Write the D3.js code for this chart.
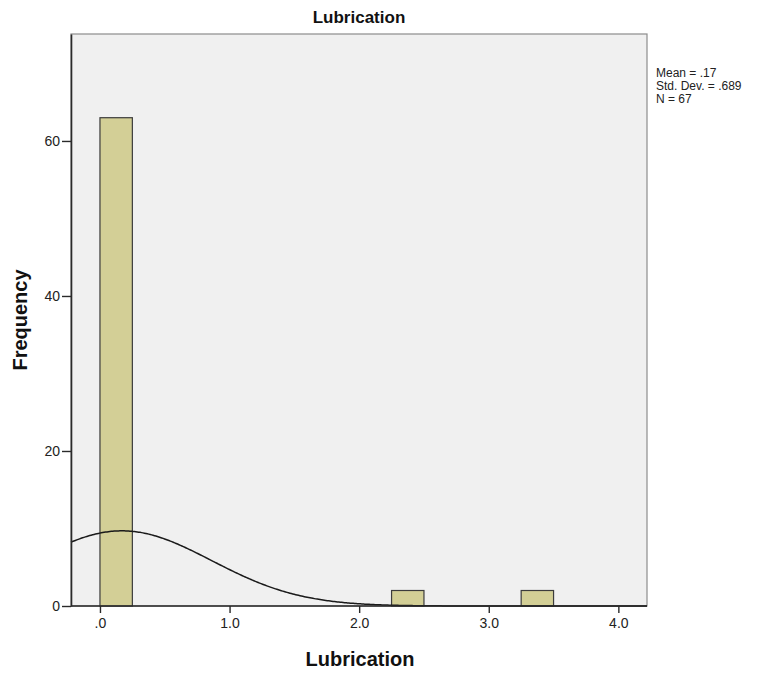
<!DOCTYPE html>
<html>
<head>
<meta charset="utf-8">
<script src="https://cdn.jsdelivr.net/npm/d3@7"></script>
<style>
  html, body { margin: 0; padding: 0; background: #fff; }
  svg { display: block; font-family: "Liberation Sans", Arial, sans-serif; }
</style>
</head>
<body>
<svg id="chart" width="767" height="675"></svg>
<script>
// Histogram bins of Lubrication (left edge of each bin, count)
const binStarts = [0, 2.25, 3.25];
const binCounts = [63, 2, 2];
const binWidth = 0.25;

// Summary statistics shown in the side legend
const statMean = 0.17;
const statSD = 0.689;
const statN = 67;
const statLabels = ["Mean = .17", "Std. Dev. = .689", "N = 67"];

// Axis ticks
const xTicks = [0, 1, 2, 3, 4];
const yTicks = [0, 20, 40, 60];

const svg = d3.select("#chart");
const plot = { left: 71, top: 34, right: 647, bottom: 606 };

const x = d3.scaleLinear().domain([-0.2235, 4.221]).range([plot.left, plot.right]);
const y = d3.scaleLinear().domain([0, 73.8]).range([plot.bottom, plot.top]);

// Plot background
svg.append("rect")
  .attr("x", plot.left).attr("y", plot.top)
  .attr("width", plot.right - plot.left).attr("height", plot.bottom - plot.top)
  .attr("fill", "#f0f0f0")
  .attr("stroke", "#8c8c8c").attr("stroke-width", 1.2);

// Bars
svg.append("g").selectAll("rect")
  .data(binStarts.map((s, i) => ({ s, c: binCounts[i] })))
  .join("rect")
  .attr("x", d => x(d.s))
  .attr("y", d => y(d.c))
  .attr("width", d => x(d.s + binWidth) - x(d.s))
  .attr("height", d => y(0) - y(d.c))
  .attr("fill", "#d3cf96")
  .attr("stroke", "#3c3c3c")
  .attr("stroke-width", 1.2);

// Fitted normal curve scaled to counts
const normal = v => statN * binWidth / (statSD * Math.sqrt(2 * Math.PI)) *
  Math.exp(-0.5 * Math.pow((v - statMean) / statSD, 2));
const curvePts = d3.range(0, 401).map(i => {
  const v = x.domain()[0] + (x.domain()[1] - x.domain()[0]) * i / 400;
  return [v, normal(v)];
});
svg.append("path")
  .datum(curvePts)
  .attr("fill", "none")
  .attr("stroke", "#1a1a1a")
  .attr("stroke-width", 1.5)
  .attr("d", d3.line().x(d => x(d[0])).y(d => y(d[1])).curve(d3.curveBasis));

// Axes
const fmtX = v => d3.format(".1f")(v).replace(/^0\./, ".");
const xAxis = svg.append("g")
  .attr("transform", `translate(0,${plot.bottom})`)
  .call(d3.axisBottom(x).tickValues(xTicks).tickFormat(fmtX).tickSizeOuter(0).tickSizeInner(7).tickPadding(5));
const yAxis = svg.append("g")
  .attr("transform", `translate(${plot.left},0)`)
  .call(d3.axisLeft(y).tickValues(yTicks).tickSizeOuter(0).tickSizeInner(9).tickPadding(2));

[xAxis, yAxis].forEach(g => {
  g.select(".domain").attr("stroke", "#2a2a2a").attr("stroke-width", 1.6);
  g.selectAll(".tick line").attr("stroke", "#2a2a2a").attr("stroke-width", 1.4);
  g.selectAll(".tick text").attr("fill", "#222").style("font-size", "14px")
    .style("font-family", "'Liberation Sans', Arial, sans-serif");
});
// full-width baseline
xAxis.select(".domain").attr("d", `M${plot.left},0H${plot.right}`);

// Titles
svg.append("text")
  .attr("x", 359).attr("y", 23)
  .attr("text-anchor", "middle")
  .style("font-size", "17px").style("font-weight", "bold")
  .attr("fill", "#111")
  .text("Lubrication");

svg.append("text")
  .attr("x", 360).attr("y", 666)
  .attr("text-anchor", "middle")
  .style("font-size", "20px").style("font-weight", "bold")
  .attr("fill", "#111")
  .text("Lubrication");

svg.append("text")
  .attr("transform", "translate(27,320) rotate(-90)")
  .attr("text-anchor", "middle")
  .style("font-size", "20px").style("font-weight", "bold")
  .attr("fill", "#111")
  .text("Frequency");

// Statistics legend
svg.append("g").selectAll("text")
  .data(statLabels)
  .join("text")
  .attr("x", 656)
  .attr("y", (d, i) => 77 + i * 13)
  .style("font-size", "12px")
  .attr("fill", "#222")
  .text(d => d);
</script>
</body>
</html>
